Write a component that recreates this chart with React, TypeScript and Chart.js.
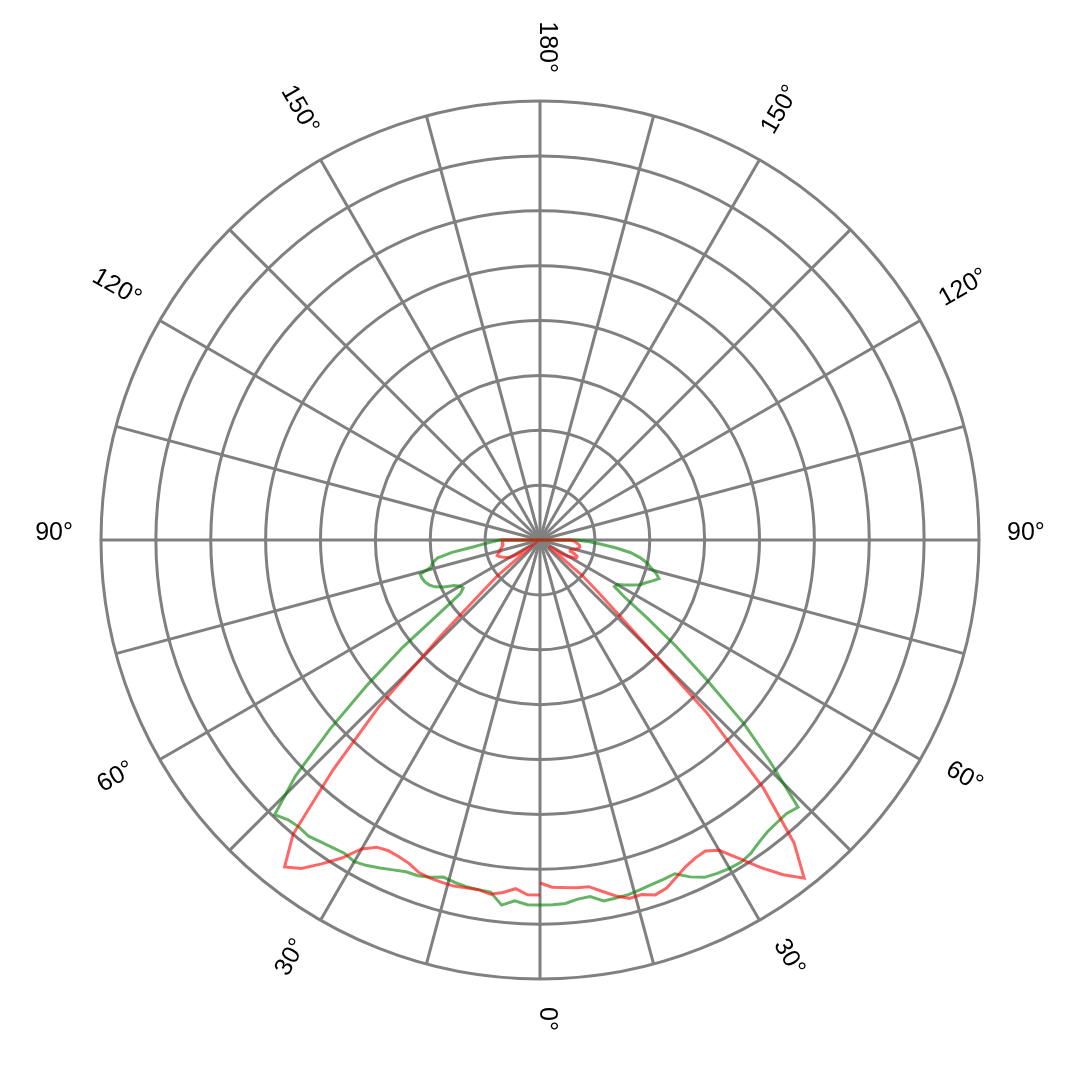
import { useEffect, useRef } from "react";
import { Chart, registerables } from "chart.js";

Chart.register(...registerables);

// Gamma angles (degrees from nadir), 2° steps
const gammaAngles = [
  0, 2, 4, 6, 8, 10, 12, 14, 16, 18, 20, 22, 24, 26, 28, 30, 32, 34, 36, 38,
  40, 42, 44, 46, 48, 50, 52, 54, 56, 58, 60, 62, 64, 66, 68, 70, 72, 74, 76, 78,
  80, 82, 84, 86, 88, 90, 92, 94, 96, 98, 100, 102, 104, 106, 108, 110, 112, 114, 116, 118,
  120, 122, 124, 126, 128, 130, 132, 134, 136, 138, 140, 142, 144, 146, 148, 150, 152, 154, 156, 158,
  160, 162, 164, 166, 168, 170, 172, 174, 176, 178, 180,
];

// Red curve, left half
const redLeft = [
  6.47, 6.47, 6.37, 6.46, 6.52, 6.47, 6.48, 6.5, 6.49, 6.48, 6.45, 6.36, 6.32, 6.3, 6.34, 6.5, 6.84, 7.12, 7.4, 7.56,
  7.0, 5.64, 4.24, 2.5, 1.47, 1.0, 0.3, 0.2, 0.3, 0.5, 0.63, 0.68, 0.72, 0.76, 0.8, 0.83, 0.8, 0.76, 0.75, 0.72,
  0.7, 0.68, 0.68, 0.68, 0.69, 0.69, 0, 0, 0, 0, 0, 0, 0, 0, 0, 0, 0, 0, 0, 0,
  0, 0, 0, 0, 0, 0, 0, 0, 0, 0, 0, 0, 0, 0, 0, 0, 0, 0, 0, 0,
  0, 0, 0, 0, 0, 0, 0, 0, 0, 0, 0,
];

// Red curve, right half
const redRight = [
  6.25, 6.33, 6.35, 6.37, 6.38, 6.5, 6.63, 6.73, 6.72, 6.8, 6.75, 6.63, 6.52, 6.45, 6.42, 6.53, 6.84, 7.2, 7.54, 7.82,
  7.2, 6.08, 4.38, 2.2, 1.45, 1.0, 0.3, 0.2, 0.35, 0.5, 0.6, 0.68, 0.74, 0.74, 0.68, 0.6, 0.58, 0.62, 0.68, 0.72,
  0.73, 0.73, 0.7, 0.66, 0.62, 0.55, 0, 0, 0, 0, 0, 0, 0, 0, 0, 0, 0, 0, 0, 0,
  0, 0, 0, 0, 0, 0, 0, 0, 0, 0, 0, 0, 0, 0, 0, 0, 0, 0, 0, 0,
  0, 0, 0, 0, 0, 0, 0, 0, 0, 0, 0,
];

// Green curve, left half
const greenLeft = [
  6.65, 6.65, 6.59, 6.69, 6.48, 6.47, 6.46, 6.43, 6.39, 6.46, 6.51, 6.52, 6.58, 6.65, 6.72, 6.77, 6.73, 6.76, 6.8, 6.85,
  6.83, 6.86, 6.96, 6.2, 5.15, 4.1, 3.17, 2.25, 1.75, 1.65, 1.68, 1.77, 1.95, 2.1, 2.18, 2.23, 2.26, 2.27, 2.05, 2.0,
  1.9, 1.62, 1.23, 1.02, 0.85, 0.73, 0, 0, 0, 0, 0, 0, 0, 0, 0, 0, 0, 0, 0, 0,
  0, 0, 0, 0, 0, 0, 0, 0, 0, 0, 0, 0, 0, 0, 0, 0, 0, 0, 0, 0,
  0, 0, 0, 0, 0, 0, 0, 0, 0, 0, 0,
];

// Green curve, right half
const greenRight = [
  6.65, 6.65, 6.64, 6.58, 6.56, 6.68, 6.67, 6.66, 6.63, 6.6, 6.58, 6.56, 6.72, 6.84, 6.88, 6.91, 6.92, 6.88, 6.8, 6.74,
  6.72, 6.71, 6.77, 5.85, 5.0, 3.97, 3.15, 2.4, 1.85, 1.6, 1.62, 1.75, 1.87, 2.0, 2.08, 2.18, 2.28, 2.2, 2.08, 1.99,
  1.85, 1.67, 1.4, 1.12, 0.9, 0.67, 0, 0, 0, 0, 0, 0, 0, 0, 0, 0, 0, 0, 0, 0,
  0, 0, 0, 0, 0, 0, 0, 0, 0, 0, 0, 0, 0, 0, 0, 0, 0, 0, 0, 0,
  0, 0, 0, 0, 0, 0, 0, 0, 0, 0, 0,
];

const ringValues = [1, 2, 3, 4, 5, 6, 7, 8];
const spokeAngles = [0, 15, 30, 45, 60, 75, 90, 105, 120, 135, 150, 165, 180, 195, 210, 225, 240, 255, 270, 285, 300, 315, 330, 345];
const leftTickLabels = [30, 60, 90, 120, 150, 180];
const rightTickLabels = [0, 30, 60, 90, 120, 150];
const R_MAX = 8;
const LABEL_R = 8.51;

const GRID_COLOR = "#808080";
const RED = "rgba(255,0,0,0.6)";
const GREEN = "rgba(0,128,0,0.6)";

const rad = (d: number) => (d * Math.PI) / 180;

function toXY(values: number[], side: number) {
  return gammaAngles.map((g, i) => ({
    x: side * values[i] * Math.sin(rad(g)),
    y: -values[i] * Math.cos(rad(g)),
  }));
}

const polarGrid = {
  id: "polarGrid",
  beforeDatasetsDraw(chart: any) {
    const { ctx } = chart;
    const xs = chart.scales.x;
    const ys = chart.scales.y;
    const cx = xs.getPixelForValue(0);
    const cy = ys.getPixelForValue(0);
    const unit = xs.getPixelForValue(1) - cx;
    ctx.save();
    ctx.strokeStyle = GRID_COLOR;
    ctx.lineWidth = 3;
    ringValues.forEach((r) => {
      ctx.beginPath();
      ctx.arc(cx, cy, r * unit, 0, Math.PI * 2);
      ctx.stroke();
    });
    spokeAngles.forEach((a) => {
      const t = rad(a);
      ctx.beginPath();
      ctx.moveTo(cx, cy);
      ctx.lineTo(xs.getPixelForValue(R_MAX * Math.sin(t)), ys.getPixelForValue(-R_MAX * Math.cos(t)));
      ctx.stroke();
    });
    ctx.fillStyle = "#000";
    ctx.font = '25px "Liberation Sans", Arial, sans-serif';
    ctx.textBaseline = "alphabetic";
    const drawLabel = (g: number, side: number) => {
      const t = rad(g);
      const px = cx + side * Math.sin(t) * LABEL_R * unit;
      const py = cy + Math.cos(t) * LABEL_R * unit;
      ctx.save();
      ctx.translate(px, py);
      if (side < 0) {
        ctx.rotate(rad(g - 90));
        ctx.textAlign = "right";
      } else {
        ctx.rotate(rad(90 - g));
        ctx.textAlign = "left";
      }
      ctx.fillText(`${g}°`, 0, 0);
      ctx.restore();
    };
    leftTickLabels.forEach((g) => drawLabel(g, -1));
    rightTickLabels.forEach((g) => drawLabel(g, 1));
    ctx.restore();
  },
};

export default function App() {
  const ref = useRef<HTMLCanvasElement | null>(null);
  useEffect(() => {
    if (!ref.current) return;
    const mk = (label: string, values: number[], side: number, color: string) => ({
      label,
      data: toXY(values, side),
      showLine: true,
      borderColor: color,
      backgroundColor: color,
      borderWidth: 3,
      pointRadius: 0,
      fill: false,
      tension: 0,
    });
    const chart = new Chart(ref.current, {
      type: "scatter",
      data: {
        datasets: [
          mk("Red C180", redLeft, -1, RED),
          mk("Red C0", redRight, 1, RED),
          mk("Green C270", greenLeft, -1, GREEN),
          mk("Green C90", greenRight, 1, GREEN),
        ],
      },
      options: {
        animation: false,
        responsive: false,
        maintainAspectRatio: false,
        devicePixelRatio: 1,
        layout: { padding: 101 },
        scales: {
          x: { type: "linear", min: -R_MAX, max: R_MAX, display: false },
          y: { type: "linear", min: -R_MAX, max: R_MAX, display: false },
        },
        plugins: { legend: { display: false }, tooltip: { enabled: false } },
      },
      plugins: [polarGrid],
    } as any);
    return () => chart.destroy();
  }, []);
  return (
    <div style={{ position: "fixed", left: 0, top: 0, width: 1080, height: 1080, background: "#fff" }}>
      <canvas ref={ref} width={1080} height={1080} style={{ display: "block" }} />
    </div>
  );
}
